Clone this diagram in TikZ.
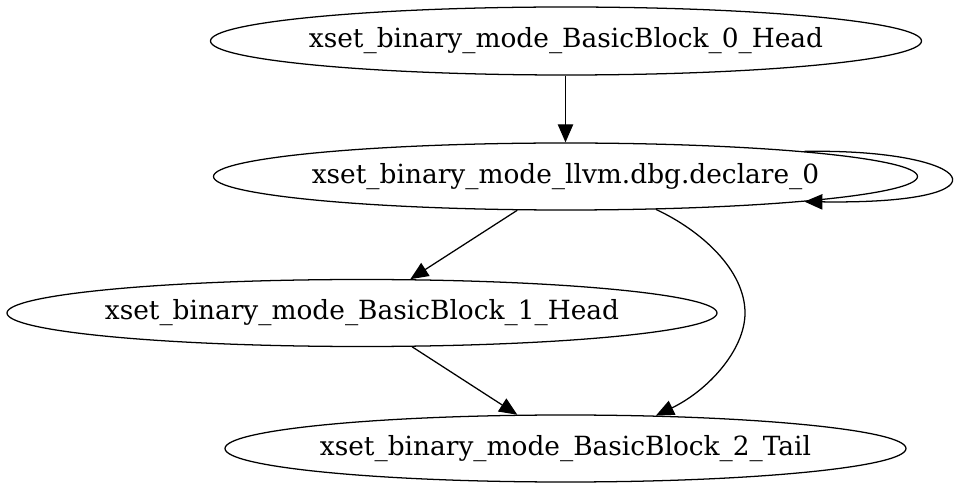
\documentclass[tikz,border=0pt]{standalone}
\usepackage{fontspec}
\setmainfont{DejaVu Serif}
\usetikzlibrary{shapes.geometric,arrows.meta}
\newcommand{\zwlabel}[1]{\makebox[0pt]{#1}}
\begin{document}
\begin{tikzpicture}[x=0.75pt,y=-0.75pt,
  bb/.style={draw,ellipse,inner sep=0pt,line width=0.95pt,font=\fontsize{19.8pt}{22pt}\selectfont},
  edge/.style={draw,line width=0.95pt,-{Triangle[length=13.5pt,width=11.5pt]}}]
\useasboundingbox (0,0) rectangle (960,491);
\node[bb,minimum width=533.25pt,minimum height=51pt] (E0) at (566,41) {\zwlabel{xset\_binary\_mode\_BasicBlock\_0\_Head}};
\node[bb,minimum width=528pt,minimum height=50.25pt] (E1) at (565.5,176.5) {\zwlabel{xset\_binary\_mode\_llvm.dbg.declare\_0}};
\node[bb,minimum width=532.5pt,minimum height=50.25pt] (E2) at (362,313) {\zwlabel{xset\_binary\_mode\_BasicBlock\_1\_Head}};
\node[bb,minimum width=510.75pt,minimum height=50.25pt] (E3) at (565.5,448.5) {\zwlabel{xset\_binary\_mode\_BasicBlock\_2\_Tail}};
\draw[edge] (E0.south -| E1.north) -- (E1.north);
\draw[edge] (E1.6.6) .. controls +(172,-3) and +(215,3) .. (E1.-6.07);
\draw[edge] (E1.215.3) -- (E2.35);
\draw[edge] (E2.-34.2) -- (E3.145.4);
\draw[edge] (E1.-20.7) .. controls +(45,21) and +(0,-43) .. (745,313) .. controls +(0,37) and +(52,-25) .. (E3.20.9);
\end{tikzpicture}
\end{document}
